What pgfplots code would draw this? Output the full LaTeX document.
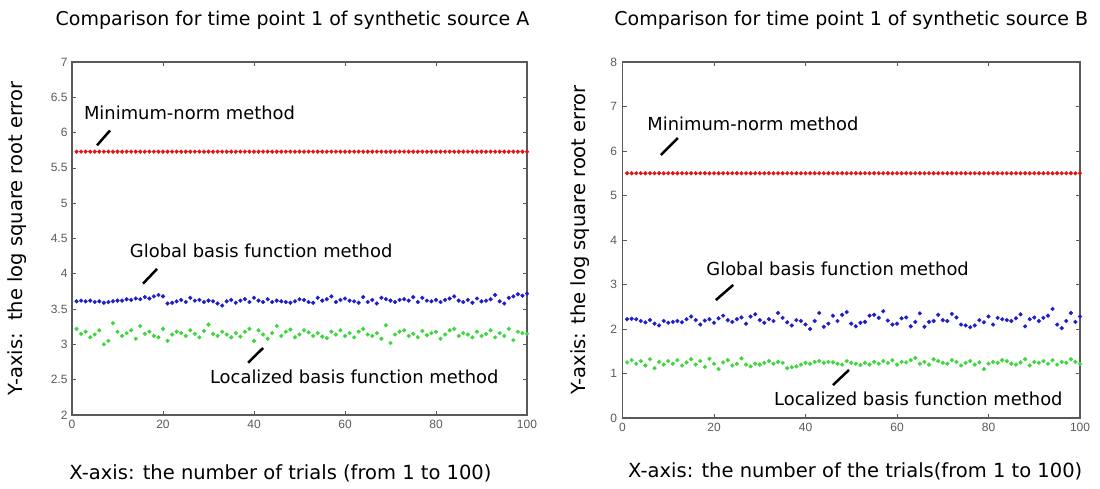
\documentclass[border=0pt]{standalone}
\usepackage{pgfplots}
\pgfplotsset{compat=1.18}
\usepackage{pgfplotstable}
\usepackage{fontspec}
\setmainfont{DejaVu Sans}
\newfontfamily\tickfont{Liberation Sans}
\definecolor{mred}{RGB}{225,20,20}
\definecolor{mblue}{RGB}{30,30,200}
\definecolor{mgreen}{RGB}{60,215,60}
\definecolor{axgray}{RGB}{90,90,90}

\pgfplotstableread{
x blueA greenA blueB greenB
1 3.61 3.22 2.22 1.25
2 3.62 3.15 2.23 1.30
3 3.61 3.18 2.22 1.22
4 3.62 3.10 2.18 1.28
5 3.60 3.14 2.15 1.18
6 3.61 3.20 2.20 1.32
7 3.59 3.00 2.12 1.12
8 3.60 3.05 2.08 1.26
9 3.61 3.30 2.18 1.20
10 3.62 3.18 2.14 1.28
11 3.62 3.12 2.16 1.22
12 3.64 3.16 2.18 1.30
13 3.63 3.20 2.15 1.18
14 3.65 3.08 2.22 1.25
15 3.64 3.26 2.28 1.32
16 3.67 3.15 2.20 1.20
17 3.65 3.18 2.10 1.28
18 3.68 3.12 2.19 1.15
19 3.70 3.10 2.22 1.33
20 3.68 3.22 2.14 1.22
21 3.58 3.05 2.24 1.10
22 3.59 3.14 2.30 1.25
23 3.61 3.18 2.20 1.30
24 3.63 3.16 2.16 1.18
25 3.60 3.12 2.22 1.22
26 3.66 3.20 2.26 1.34
27 3.62 3.15 2.12 1.20
28 3.63 3.10 2.28 1.16
29 3.60 3.19 2.33 1.22
30 3.62 3.28 2.20 1.20
31 3.61 3.15 2.14 1.24
32 3.58 3.12 2.22 1.28
33 3.55 3.18 2.18 1.22
34 3.61 3.14 2.36 1.26
35 3.63 3.10 2.25 1.24
36 3.59 3.16 2.15 1.12
37 3.62 3.11 2.08 1.14
38 3.64 3.18 2.20 1.16
39 3.60 3.22 2.18 1.20
40 3.66 3.05 2.10 1.24
41 3.62 3.20 2.00 1.22
42 3.60 3.14 2.18 1.26
43 3.64 3.08 2.36 1.28
44 3.60 3.16 2.05 1.24
45 3.62 3.26 2.12 1.26
46 3.61 3.12 2.30 1.25
47 3.60 3.18 2.18 1.22
48 3.59 3.21 2.32 1.20
49 3.61 3.10 2.38 1.28
50 3.64 3.14 2.12 1.24
51 3.63 3.20 2.06 1.22
52 3.60 3.17 2.14 1.19
53 3.59 3.12 2.16 1.24
54 3.66 3.16 2.30 1.20
55 3.62 3.11 2.32 1.26
56 3.64 3.09 2.25 1.22
57 3.68 3.18 2.40 1.28
58 3.60 3.14 2.19 1.24
59 3.63 3.20 2.10 1.30
60 3.65 3.12 2.12 1.20
61 3.62 3.16 2.24 1.26
62 3.61 3.10 2.26 1.25
63 3.59 3.18 2.06 1.30
64 3.67 3.22 2.16 1.35
65 3.60 3.14 2.35 1.22
66 3.63 3.12 2.05 1.26
67 3.58 3.16 2.16 1.20
68 3.66 3.08 2.18 1.32
69 3.64 3.27 2.32 1.28
70 3.62 3.02 2.20 1.24
71 3.60 3.14 2.18 1.22
72 3.63 3.18 2.34 1.30
73 3.64 3.20 2.26 1.26
74 3.62 3.12 2.10 1.18
75 3.67 3.15 2.08 1.24
76 3.60 3.10 2.04 1.28
77 3.66 3.19 2.08 1.20
78 3.62 3.13 2.20 1.25
79 3.61 3.16 2.15 1.10
80 3.63 3.18 2.28 1.22
81 3.60 3.08 2.10 1.26
82 3.63 3.14 2.25 1.24
83 3.65 3.20 2.22 1.30
84 3.68 3.22 2.20 1.28
85 3.62 3.12 2.18 1.22
86 3.60 3.16 2.24 1.20
87 3.63 3.14 2.33 1.25
88 3.59 3.10 2.06 1.32
89 3.65 3.18 2.22 1.18
90 3.61 3.12 2.26 1.26
91 3.62 3.15 2.18 1.24
92 3.64 3.20 2.25 1.28
93 3.70 3.10 2.30 1.22
94 3.61 3.16 2.45 1.30
95 3.58 3.12 2.10 1.20
96 3.66 3.22 2.02 1.26
97 3.68 3.06 2.18 1.24
98 3.71 3.18 2.36 1.32
99 3.69 3.16 2.16 1.26
100 3.72 3.15 2.28 1.22
}\datatab

\newcommand{\titf}{\fontsize{19}{23}\selectfont}
\newcommand{\bigf}{\fontsize{19.5}{23}\selectfont}
\newcommand{\annf}{\fontsize{17.9}{21}\selectfont}

\pgfplotsset{
  myaxis/.style={
    scale only axis,
    xmin=0, xmax=100,
    xtick={0,20,40,60,80,100},
    tick align=inside,
    major tick length=4pt,
    axis line style={axgray, line width=1.1pt},
    tick style={axgray, line width=0.8pt},
    ticklabel style={font=\tickfont\fontsize{12}{12}\selectfont, text=axgray},
    xticklabel style={yshift=-2pt},
    /pgf/number format/assume math mode=true,
    label style={font=\bigf},
    title style={font=\titf},
    clip=false,
  },
  mk/.style={only marks, mark=*, mark size=1.9pt, draw=#1, fill=#1},
}

\begin{document}
\begin{tikzpicture}[x=1pt,y=1pt]
\path[use as bounding box] (0,0) rectangle (1100,488);

\begin{axis}[myaxis,
  at={(72pt,73pt)}, anchor=south west,
  width=455pt, height=353pt,
  ymin=2, ymax=7,
  ytick={2,2.5,3,3.5,4,4.5,5,5.5,6,6.5,7},
  yticklabels={2,2.5,3,3.5,4,4.5,5,5.5,6,6.5,7},
  yticklabel style={xshift=-1pt},
  title={Comparison for time point 1 of synthetic source A},
  title style={at={(0.5,1)}, anchor=center, yshift=36pt, xshift=-7pt},
  xlabel={X-axis: the number of trials (from 1 to 100)},
  xlabel style={at={(0.5,0)}, anchor=center, yshift=-58pt, xshift=-19pt},
  ylabel={Y-axis:\ \ the log square root error},
  ylabel style={at={(0,0.5)}, anchor=center, yshift=55pt},
]
\addplot[mk=mred] table[x=x, y expr=5.73] {\datatab};
\addplot[mk=mblue] table[x=x, y=blueA] {\datatab};
\addplot[mk=mgreen] table[x=x, y=greenA] {\datatab};
\node[anchor=west, inner sep=0pt, font=\annf] at (axis cs:2.6,6.28) {Minimum-norm method};
\draw[line width=2.5pt] (axis cs:5.5,5.82) -- (axis cs:8.35,6.03);
\node[anchor=west, inner sep=0pt, font=\annf] at (axis cs:12.7,4.32) {Global basis function method};
\draw[line width=2.5pt] (axis cs:15.6,3.86) -- (axis cs:18.7,4.07);
\node[anchor=west, inner sep=0pt, font=\annf] at (axis cs:30.3,2.54) {Localized basis function method};
\draw[line width=2.5pt] (axis cs:38.7,2.74) -- (axis cs:42.0,2.95);
\end{axis}

\begin{axis}[myaxis,
  at={(622.5pt,70pt)}, anchor=south west,
  width=457.5pt, height=356pt,
  ymin=0, ymax=8,
  ytick={0,1,2,3,4,5,6,7,8},
  yticklabel style={xshift=-2pt},
  title={Comparison for time point 1 of synthetic source B},
  title style={at={(0.5,1)}, anchor=center, yshift=36pt},
  xlabel={X-axis: the number of the trials(from 1 to 100)},
  xlabel style={at={(0.5,0)}, anchor=center, yshift=-53pt, xshift=4pt},
  ylabel={Y-axis: the log square root error},
  ylabel style={at={(0,0.5)}, anchor=center, yshift=42.5pt},
]
\addplot[mk=mred] table[x=x, y expr=5.5] {\datatab};
\addplot[mk=mblue] table[x=x, y=blueB] {\datatab};
\addplot[mk=mgreen] table[x=x, y=greenB] {\datatab};
\node[anchor=west, inner sep=0pt, font=\annf] at (axis cs:5.4,6.61) {Minimum-norm method};
\draw[line width=2.5pt] (axis cs:8.4,5.91) -- (axis cs:12.1,6.29);
\node[anchor=west, inner sep=0pt, font=\annf] at (axis cs:18.3,3.35) {Global basis function method};
\draw[line width=2.5pt] (axis cs:20.4,2.65) -- (axis cs:24.2,2.99);
\node[anchor=west, inner sep=0pt, font=\annf] at (axis cs:33.1,0.43) {Localized basis function method};
\draw[line width=2.5pt] (axis cs:46.0,0.74) -- (axis cs:49.5,1.08);
\end{axis}
\end{tikzpicture}
\end{document}
